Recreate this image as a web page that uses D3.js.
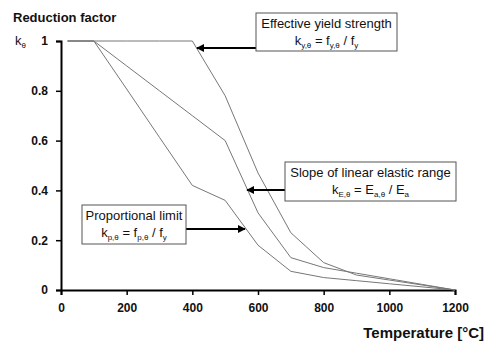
<!DOCTYPE html>
<html lang="en">
<head>
<meta charset="UTF-8" />
<script src="https://d3js.org/d3.v7.min.js"></script>
<style>
  body { margin: 0; background: #fff; }
  svg text { font-family: Arial, "Liberation Sans", sans-serif; }
</style>
</head>
<body>
<div id="chart"></div>
<script>
// temperatures (°C) and reduction factors
const temps = [20, 100, 200, 300, 400, 500, 600, 700, 800, 900, 1000, 1100, 1200];
const kY = [1, 1, 1, 1, 1, 0.78, 0.47, 0.23, 0.11, 0.06, 0.04, 0.02, 0];
const kP = [1, 1, 0.807, 0.613, 0.42, 0.36, 0.18, 0.075, 0.05, 0.0375, 0.025, 0.0125, 0];
const kE = [1, 1, 0.9, 0.8, 0.7, 0.6, 0.31, 0.13, 0.09, 0.0675, 0.045, 0.0225, 0];
const xTicks = [0, 200, 400, 600, 800, 1000, 1200];
const yTicks = [0, 0.2, 0.4, 0.6, 0.8, 1];

const width = 500, height = 353;
const svg = d3.select("#chart").append("svg")
  .attr("width", width).attr("height", height);

const x = d3.scaleLinear().domain([0, 1200]).range([61, 455]);
const y = d3.scaleLinear().domain([0, 1]).range([290, 41]);

// axes
const xAxis = svg.append("g")
  .attr("transform", `translate(0,${y(0)})`)
  .call(d3.axisBottom(x).tickValues(xTicks).tickSize(5).tickPadding(8).tickFormat(d3.format("d")));
const yAxis = svg.append("g")
  .attr("transform", `translate(${x(0)},0)`)
  .call(d3.axisLeft(y).tickValues(yTicks).tickSize(5).tickPadding(8).tickFormat(d => d));

[xAxis, yAxis].forEach(a => {
  a.select(".domain").attr("stroke", "#000").attr("stroke-width", 2);
  a.selectAll(".tick line").attr("stroke", "#000").attr("stroke-width", 1.5);
  a.selectAll(".tick text").attr("fill", "#111").style("font-size", "12px").style("font-weight", "bold");
});

// curves
const line = d3.line().x((d, i) => x(temps[i])).y(d => y(d));
[kY, kE, kP].forEach(s => {
  svg.append("path").datum(s)
    .attr("fill", "none").attr("stroke", "#777").attr("stroke-width", 1)
    .attr("d", line);
});

// titles
svg.append("text").attr("x", 13).attr("y", 22)
  .style("font-size", "13px").style("font-weight", "bold").attr("fill", "#111")
  .text("Reduction factor");
const kt = svg.append("text").attr("x", 15).attr("y", 45)
  .style("font-size", "13px").attr("fill", "#111");
kt.append("tspan").text("k");
kt.append("tspan").attr("dy", 3).style("font-size", "8px").text("θ");
svg.append("text").attr("x", 484).attr("y", 338).attr("text-anchor", "end")
  .style("font-size", "15px").style("font-weight", "bold").attr("fill", "#111")
  .text("Temperature [°C]");

// arrow marker
svg.append("defs").append("marker")
  .attr("id", "arr").attr("viewBox", "0 0 10 10")
  .attr("refX", 9).attr("refY", 5)
  .attr("markerWidth", 4).attr("markerHeight", 4)
  .attr("orient", "auto")
  .append("path").attr("d", "M0,0L10,5L0,10z").attr("fill", "#000");

// annotation box with a formula line; parts flagged 1 are subscripts
function note(bx, by, bw, bh, title, parts, ax1, ay, ax2) {
  svg.append("line").attr("x1", ax1).attr("y1", ay).attr("x2", ax2).attr("y2", ay)
    .attr("stroke", "#000").attr("stroke-width", 2).attr("marker-end", "url(#arr)");
  svg.append("rect").attr("x", bx).attr("y", by).attr("width", bw).attr("height", bh)
    .attr("fill", "#fff").attr("stroke", "#555").attr("stroke-width", 1);
  svg.append("text").attr("x", bx + bw / 2).attr("y", by + 15).attr("text-anchor", "middle")
    .style("font-size", "13px").attr("fill", "#111").text(title);
  const t = svg.append("text").attr("x", bx + bw / 2).attr("y", by + 32).attr("text-anchor", "middle")
    .style("font-size", "13px").attr("fill", "#111");
  let shift = 0;
  parts.forEach(p => {
    const want = p[1] ? 3 : 0;
    const ts = t.append("tspan").attr("dy", want - shift).text(p[0]);
    if (p[1]) ts.style("font-size", "8px");
    shift = want;
  });
}

note(256, 13, 141, 38, "Effective yield strength",
  [["k"], ["y,θ", 1], [" = f"], ["y,θ", 1], [" / f"], ["y", 1]], 256, 48, 197);
note(285, 162, 171, 39, "Slope of linear elastic range",
  [["k"], ["E,θ", 1], [" = E"], ["a,θ", 1], [" / E"], ["a", 1]], 285, 190, 247);
note(82, 205, 104, 39, "Proportional limit",
  [["k"], ["p,θ", 1], [" = f"], ["p,θ", 1], [" / f"], ["y", 1]], 186, 229, 245);
</script>
</body>
</html>
